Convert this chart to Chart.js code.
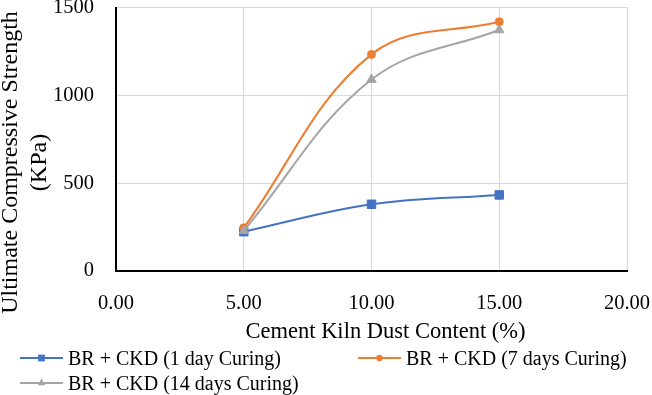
<!DOCTYPE html>
<html>
<head>
<meta charset="utf-8">
<title>Ultimate Compressive Strength</title>
<script src="https://cdn.jsdelivr.net/npm/chart.js"></script>
<style>
  body { margin: 0; background: #fff; }
  canvas { display: block; }
</style>
</head>
<body>
<canvas id="chart" width="652" height="395"></canvas>
<script>
// values
const ckdContent = [5, 10, 15];
const oneDay = [224, 380, 433];
const sevenDays = [246, 1233, 1419];
const fourteenDays = [229, 1090, 1372];
const seriesNames = ['BR + CKD (1 day Curing)', 'BR + CKD (7 days Curing)', 'BR + CKD (14 days Curing)'];
const xTicks = [0, 5, 10, 15, 20];
const yTicks = [0, 500, 1000, 1500];
const xTitle = 'Cement Kiln Dust Content (%)';
const yTitle = ['Ultimate Compressive Strength', '(KPa)'];

const serif = '"Liberation Serif", "Times New Roman", serif';
Chart.defaults.font.family = serif;
Chart.defaults.color = '#000';

const toPoints = ys => ckdContent.map((x, i) => ({ x: x, y: ys[i] }));

const makeSeries = (label, ys, color, style, radius, order) => ({
  label: label,
  data: toPoints(ys),
  showLine: true,
  tension: 0.38,
  borderColor: color,
  backgroundColor: color,
  borderWidth: 2,
  pointStyle: style,
  pointRadius: radius,
  pointBorderWidth: 1,
  order: order
});

// markers like excel: line with the point in the middle
function marker(ctx, style, r, x, y) {
  ctx.beginPath();
  if (style === 'rect') {
    ctx.rect(x - r * 0.7, y - r * 0.7, r * 1.4, r * 1.4);
  } else if (style === 'triangle') {
    ctx.moveTo(x, y - r);
    ctx.lineTo(x + r * 0.87, y + r / 2);
    ctx.lineTo(x - r * 0.87, y + r / 2);
    ctx.closePath();
  } else {
    ctx.arc(x, y, r, 0, Math.PI * 2);
  }
  ctx.fill();
}

const legendSpots = [[20, 358], [358, 358], [20, 383]];

const excelBits = {
  id: 'excelBits',
  afterDraw(chart) {
    const ctx = chart.ctx;

    ctx.save();
    ctx.fillStyle = '#000';
    ctx.textAlign = 'center';
    ctx.textBaseline = 'alphabetic';
    ctx.font = '22.5px ' + serif;
    ctx.fillText(xTitle, 385.5, 338);
    ctx.font = '24px ' + serif;
    ctx.translate(17, 162.5);
    ctx.rotate(-Math.PI / 2);
    ctx.fillText(yTitle[0], 0, 0);
    ctx.fillText(yTitle[1], 0, 29);
    ctx.restore();

    chart.data.datasets.forEach((ds, i) => {
      const [x, y] = legendSpots[i];
      ctx.save();
      ctx.strokeStyle = ds.borderColor;
      ctx.lineWidth = 2;
      ctx.beginPath();
      ctx.moveTo(x, y);
      ctx.lineTo(x + 43, y);
      ctx.stroke();
      ctx.fillStyle = ds.backgroundColor;
      marker(ctx, ds.pointStyle, ds.pointRadius * 0.8, x + 21.5, y);
      ctx.fillStyle = '#000';
      ctx.font = '20px ' + serif;
      ctx.textAlign = 'left';
      ctx.textBaseline = 'alphabetic';
      ctx.fillText(ds.label, x + 48, y + 7);
      ctx.restore();
    });
  }
};

const chart = new Chart(document.getElementById('chart'), {
  type: 'scatter',
  data: {
    datasets: [
      makeSeries(seriesNames[0], oneDay, '#4472C4', 'rect', 6, 3),
      makeSeries(seriesNames[1], sevenDays, '#ED7D31', 'circle', 4, 2),
      makeSeries(seriesNames[2], fourteenDays, '#A5A5A5', 'triangle', 5.5, 1)
    ]
  },
  options: {
    responsive: false,
    animation: false,
    layout: { padding: { left: 0, top: 7.5, right: 25, bottom: 50.5 } },
    plugins: {
      legend: { display: false },
      tooltip: { enabled: false }
    },
    scales: {
      x: {
        type: 'linear',
        min: 0,
        max: 20,
        afterBuildTicks: s => { s.ticks = xTicks.map(v => ({ value: v })); },
        afterFit: s => { s.height = 73.5; s.paddingLeft = 0; s.paddingRight = 0; },
        ticks: {
          padding: 20,
          font: { size: 20.5 },
          callback: v => v.toFixed(2)
        },
        grid: { color: '#d9d9d9', lineWidth: 1, drawTicks: false },
        border: { color: '#000', width: 2 }
      },
      y: {
        type: 'linear',
        min: 0,
        max: 1500,
        afterBuildTicks: s => { s.ticks = yTicks.map(v => ({ value: v })); },
        afterFit: s => { s.width = 116; s.paddingTop = 0; s.paddingBottom = 0; },
        ticks: {
          padding: 22,
          font: { size: 20.5 },
          callback: v => String(v)
        },
        grid: { color: '#d9d9d9', lineWidth: 1, drawTicks: false },
        border: { color: '#000', width: 2 }
      }
    }
  },
  plugins: [excelBits]
});
</script>
</body>
</html>
